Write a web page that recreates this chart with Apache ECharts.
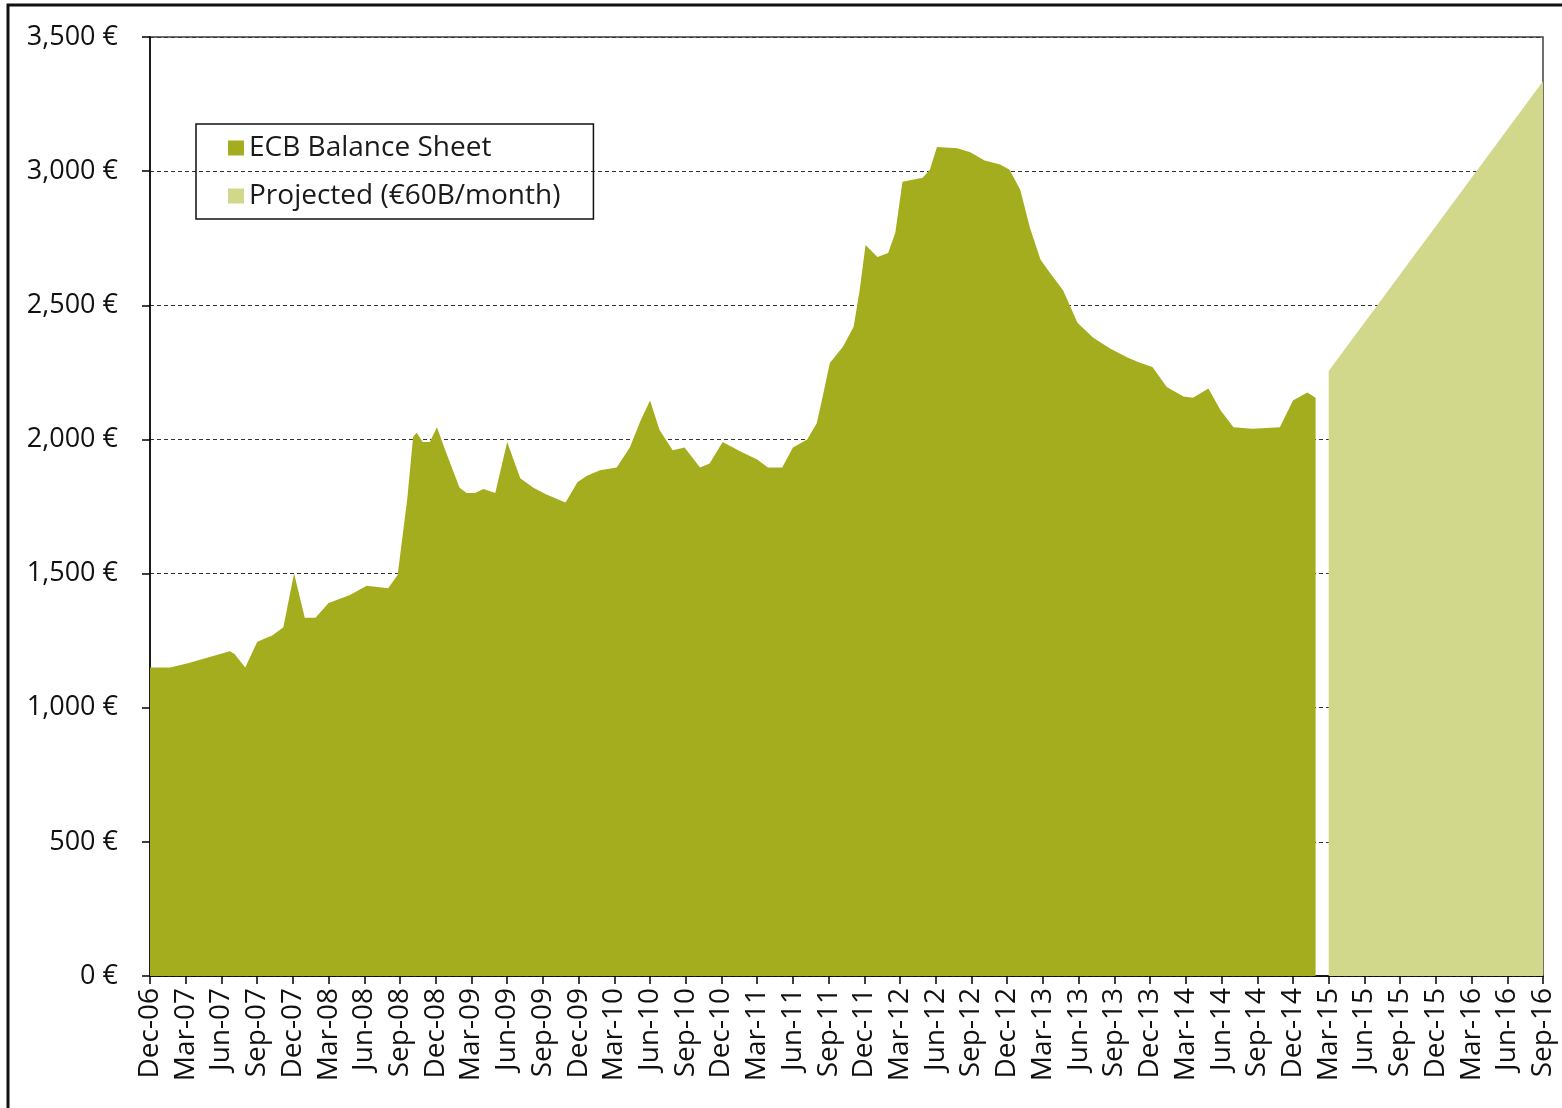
<!DOCTYPE html>
<html>
<head>
<meta charset="utf-8">
<script src="https://cdn.jsdelivr.net/npm/echarts@6/dist/echarts.min.js"></script>
<style>
  html, body { margin: 0; padding: 0; background: #fff; }
  #main { width: 1562px; height: 1108px; }
</style>
</head>
<body>
<div id="main"></div>
<script>
// x axis ticks, one every 3 months starting Dec-06
var tickLabels = ['Dec-06', 'Mar-07', 'Jun-07', 'Sep-07', 'Dec-07', 'Mar-08', 'Jun-08', 'Sep-08',
    'Dec-08', 'Mar-09', 'Jun-09', 'Sep-09', 'Dec-09', 'Mar-10', 'Jun-10', 'Sep-10',
    'Dec-10', 'Mar-11', 'Jun-11', 'Sep-11', 'Dec-11', 'Mar-12', 'Jun-12', 'Sep-12',
    'Dec-12', 'Mar-13', 'Jun-13', 'Sep-13', 'Dec-13', 'Mar-14', 'Jun-14', 'Sep-14',
    'Dec-14', 'Mar-15', 'Jun-15', 'Sep-15', 'Dec-15', 'Mar-16', 'Jun-16', 'Sep-16'];

// months since Dec-06, and balance sheet (EUR bn)
var ecbMonth = [0, 1.7, 3.1, 6.7, 7.1, 8.0, 9.0, 9.5, 10.3, 11.2, 12.1, 13.0, 13.9, 15.0, 16.8, 18.2,
    20.0, 20.8, 21.6, 22.1, 22.4, 22.9, 23.5, 24.1, 24.8, 26.0, 26.6, 27.3, 28.0, 29.0, 30.0, 31.1,
    32.2, 33.3, 34.9, 35.9, 36.7, 37.8, 39.2, 40.3, 41.2, 42.0, 42.8, 43.9, 44.9, 46.2, 47.0, 48.1,
    49.6, 51.0, 51.9, 53.1, 54.0, 55.2, 56.0, 56.5, 57.1, 58.2, 59.1, 59.6, 60.1, 61.1, 62.0, 62.6,
    63.2, 64.9, 65.5, 66.1, 67.8, 68.9, 70.1, 71.4, 72.2, 73.1, 73.9, 74.8, 75.6, 76.7, 77.9, 79.2,
    80.6, 82.1, 83.2, 84.2, 85.4, 86.8, 87.6, 88.9, 89.9, 91.0, 92.6, 94.9, 96.0, 97.2, 97.9];
var ecbValue = [1150, 1150, 1165, 1210, 1200, 1150, 1245, 1255, 1270, 1300, 1500, 1335, 1335, 1390, 1420, 1455,
    1445, 1495, 1775, 2010, 2025, 1990, 1990, 2045, 1960, 1820, 1800, 1800, 1815, 1800, 1990, 1855,
    1820, 1795, 1765, 1840, 1865, 1885, 1895, 1970, 2070, 2145, 2035, 1960, 1970, 1895, 1910, 1990,
    1955, 1925, 1895, 1895, 1970, 2000, 2060, 2160, 2285, 2345, 2420, 2555, 2725, 2680, 2695, 2770,
    2960, 2975, 3005, 3090, 3085, 3070, 3040, 3025, 3005, 2930, 2790, 2670, 2620, 2555, 2435, 2380,
    2340, 2305, 2285, 2270, 2195, 2160, 2155, 2190, 2110, 2045, 2040, 2045, 2145, 2175, 2155];

// projection Mar-15 .. Sep-16
var projMonth = [99, 100, 101, 102, 103, 104, 105, 106, 107, 108, 109, 110, 111, 112, 113, 114, 115, 116, 117];
var projValue = [2255, 2315, 2375, 2435, 2495, 2555, 2615, 2675, 2735, 2795, 2855, 2915, 2975, 3035, 3095,
    3155, 3215, 3275, 3335];

function zip(a, b) {
    var out = [];
    for (var i = 0; i < a.length; i++) {
        out.push([a[i], b[i]]);
    }
    return out;
}

var font = '"Open Sans", "Noto Sans", sans-serif';

var myChart = echarts.init(document.getElementById('main'));
var option = {
    animation: false,
    backgroundColor: '#fff',
    textStyle: { fontFamily: font },
    graphic: [{
        type: 'rect',
        shape: { x: 8, y: 5, width: 1600, height: 1200 },
        style: { fill: 'none', stroke: '#111', lineWidth: 3 },
        silent: true
    }],
    grid: {
        left: 150,
        right: 19,
        top: 37,
        bottom: 132,
        containLabel: false,
        outerBoundsMode: 'none',
        show: true,
        borderColor: '#404040',
        borderWidth: 1.5
    },
    legend: {
        orient: 'vertical',
        left: 196,
        top: 124,
        padding: [10, 33, 9, 32],
        itemGap: 20,
        itemWidth: 16,
        itemHeight: 15,
        icon: 'rect',
        borderColor: '#111',
        borderWidth: 1.5,
        textStyle: { fontSize: 28, color: '#1a1a1a', fontFamily: font },
        data: ['ECB Balance Sheet', 'Projected (€60B/month)']
    },
    xAxis: {
        type: 'value',
        min: 0,
        max: 117,
        interval: 3,
        axisLine: { show: true, lineStyle: { color: '#000', width: 1.5 } },
        axisTick: { show: true, length: 8, lineStyle: { color: '#000', width: 1.5 } },
        splitLine: { show: false },
        axisLabel: {
            rotate: 90,
            margin: 12,
            fontSize: 28,
            color: '#111',
            fontFamily: font,
            showMinLabel: true,
            showMaxLabel: true,
            hideOverlap: false,
            formatter: function (v) {
                return tickLabels[Math.round(v / 3)] || '';
            }
        }
    },
    yAxis: {
        type: 'value',
        min: 0,
        max: 3500,
        interval: 500,
        axisLine: { show: true, lineStyle: { color: '#000', width: 1.5 } },
        axisTick: { show: true, length: 8, lineStyle: { color: '#000', width: 1.5 } },
        splitLine: { show: true, lineStyle: { color: '#333', width: 1, type: [4, 3] } },
        axisLabel: {
            margin: 32,
            fontSize: 27,
            color: '#111',
            fontFamily: font,
            formatter: function (v) {
                return v.toLocaleString('en-US') + ' €';
            }
        }
    },
    series: [
        {
            name: 'ECB Balance Sheet',
            type: 'line',
            data: zip(ecbMonth, ecbValue),
            symbol: 'none',
            color: '#a4ad1e',
            lineStyle: { width: 0 },
            areaStyle: { color: '#a4ad1e', opacity: 1 },
            z: 3
        },
        {
            name: 'Projected (€60B/month)',
            type: 'line',
            data: zip(projMonth, projValue),
            symbol: 'none',
            color: '#d1d78b',
            lineStyle: { width: 0 },
            areaStyle: { color: '#d1d78b', opacity: 1 },
            z: 3
        }
    ]
};
myChart.setOption(option);
</script>
</body>
</html>
